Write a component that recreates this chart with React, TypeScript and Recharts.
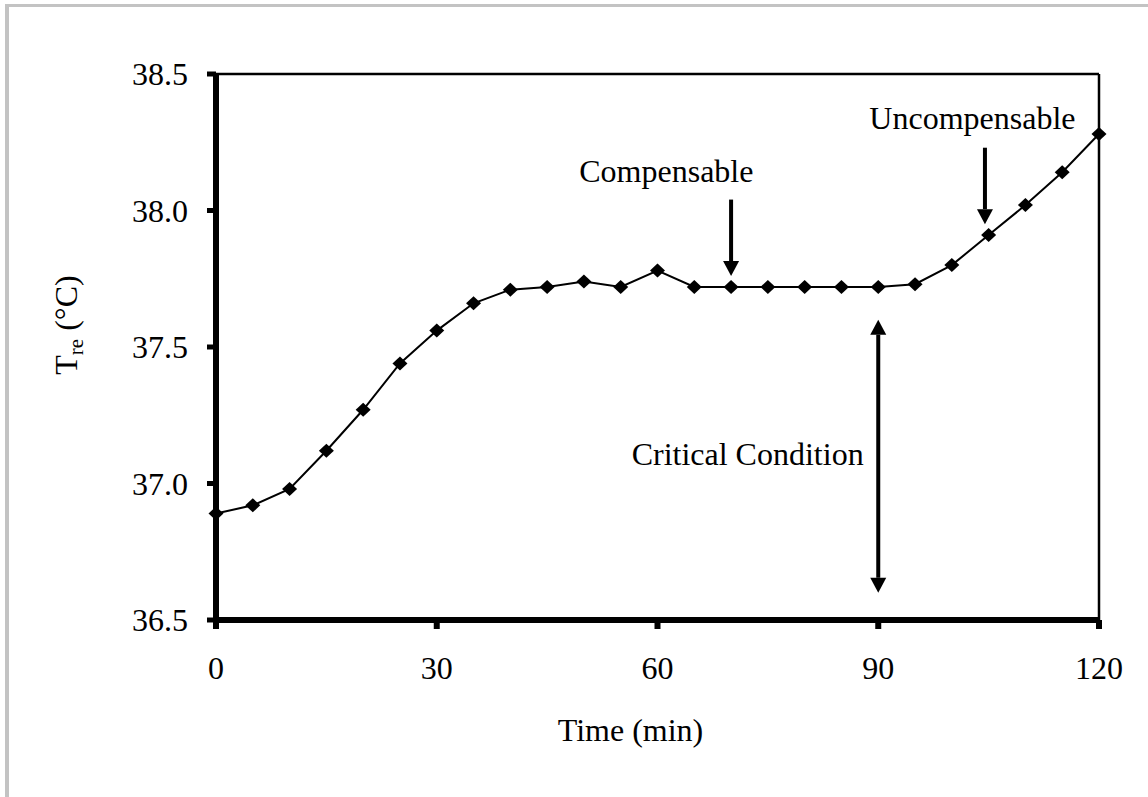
import React from "react";
import { LineChart, Line, XAxis, YAxis, ReferenceLine, ReferenceDot } from "recharts";

const times = [0, 5, 10, 15, 20, 25, 30, 35, 40, 45, 50, 55, 60, 65, 70, 75, 80, 85, 90, 95, 100, 105, 110, 115, 120];
const tre = [36.89, 36.92, 36.98, 37.12, 37.27, 37.44, 37.56, 37.66, 37.71, 37.72, 37.74, 37.72, 37.78, 37.72, 37.72, 37.72, 37.72, 37.72, 37.72, 37.73, 37.8, 37.91, 38.02, 38.14, 38.28];
const xTicks = [0, 30, 60, 90, 120];
const yTicks = [36.5, 37.0, 37.5, 38.0, 38.5];

const arrowCompensable = [{ x: 70, y: 38.04 }, { x: 70, y: 37.76 }];
const arrowUncompensable = [{ x: 104.5, y: 38.23 }, { x: 104.5, y: 37.95 }];
const arrowCritical = [{ x: 90, y: 37.6 }, { x: 90, y: 36.6 }];

const labelCompensable = { x: 61.2, y: 38.104, text: "Compensable" };
const labelUncompensable = { x: 102.8, y: 38.3, text: "Uncompensable" };
const labelCritical = { x: 72.25, y: 37.066, text: "Critical Condition" };

const data = times.map((t, i) => ({ t, tre: tre[i] }));

const FONT = "'Liberation Serif', 'Times New Roman', serif";

const Diamond = (p: any) => {
  const { cx, cy, index } = p;
  if (cx == null || cy == null) return <g key={`d${index}`} />;
  return (
    <path
      key={`d${index}`}
      d={`M${cx},${cy - 7} L${cx + 7.5},${cy} L${cx},${cy + 7} L${cx - 7.5},${cy} Z`}
      fill="#000"
    />
  );
};

const makeArrow = (doubleHead: boolean) => (p: any) => {
  const { x1, y1, x2, y2 } = p;
  const head = 15;
  const hw = 8;
  const dir = y2 > y1 ? 1 : -1;
  const shaftStart = doubleHead ? y1 + dir * head : y1;
  const shaftEnd = y2 - dir * head;
  return (
    <g>
      <line x1={x1} y1={shaftStart} x2={x2} y2={shaftEnd} stroke="#000" strokeWidth={4} />
      <polygon points={`${x2 - hw},${y2 - dir * head} ${x2 + hw},${y2 - dir * head} ${x2},${y2}`} fill="#000" />
      {doubleHead && (
        <polygon points={`${x1 - hw},${y1 + dir * head} ${x1 + hw},${y1 + dir * head} ${x1},${y1}`} fill="#000" />
      )}
    </g>
  );
};

const makeText = (text: string) => (p: any) => (
  <text x={p.cx} y={p.cy} textAnchor="middle" fontFamily={FONT} fontSize={32} fill="#000">
    {text}
  </text>
);

const YTitle = (props: any) => {
  const vb = props.viewBox || { x: 0, y: 74, width: 216, height: 546 };
  const x = vb.x + 77;
  const y = vb.y + vb.height / 2 - 22;
  return (
    <text x={x} y={y} transform={`rotate(-90 ${x} ${y})`} textAnchor="middle" fontFamily={FONT} fontSize={32} fill="#000">
      <tspan>T</tspan>
      <tspan fontSize={21} dy={6}>re</tspan>
      <tspan dy={-6}> (°C)</tspan>
    </text>
  );
};

const XTitle = (props: any) => {
  const vb = props.viewBox || { x: 216, y: 620, width: 883, height: 177 };
  const x = vb.x + vb.width / 2 - 27;
  const y = vb.y + 121;
  return (
    <text x={x} y={y} textAnchor="middle" fontFamily={FONT} fontSize={32} fill="#000">
      Time (min)
    </text>
  );
};

export default function App() {
  return (
    <div style={{ position: "absolute", left: 0, top: 0, width: 1148, height: 797, background: "#fff", overflow: "hidden", fontFamily: FONT }}>
      <div
        style={{
          position: "absolute",
          left: 5,
          top: 4,
          width: 1143,
          height: 793,
          borderTop: "3px solid #c3c3c3",
          borderLeft: "4px solid #c3c3c3",
          boxSizing: "border-box",
        }}
      />
      <div style={{ position: "absolute", left: 0, top: 0 }}>
        <LineChart width={1148} height={797} data={data} margin={{ top: 74, right: 49, left: 0, bottom: 0 }} style={{ fontFamily: FONT }}>
          <XAxis
            dataKey="t"
            type="number"
            domain={[0, 120]}
            ticks={xTicks}
            height={177}
            axisLine={{ stroke: "#000", strokeWidth: 6 }}
            tickLine={{ stroke: "#000", strokeWidth: 6 }}
            tickSize={9}
            tickMargin={27}
            tick={{ fill: "#000", fontSize: 32, fontFamily: FONT }}
            label={{ content: XTitle }}
          />
          <YAxis
            type="number"
            domain={[36.5, 38.5]}
            ticks={yTicks}
            width={216}
            axisLine={{ stroke: "#000", strokeWidth: 6 }}
            tickLine={{ stroke: "#000", strokeWidth: 5 }}
            tickSize={9}
            tickMargin={19}
            tickFormatter={(v: number) => v.toFixed(1)}
            tick={{ fill: "#000", fontSize: 32, fontFamily: FONT }}
            label={{ content: YTitle }}
          />
          <ReferenceLine y={38.5} stroke="#000" strokeWidth={2.5} />
          <ReferenceLine x={120} stroke="#000" strokeWidth={2.5} />
          <ReferenceLine segment={arrowCompensable} shape={makeArrow(false)} />
          <ReferenceLine segment={arrowUncompensable} shape={makeArrow(false)} />
          <ReferenceLine segment={arrowCritical} shape={makeArrow(true)} />
          <ReferenceDot x={labelCompensable.x} y={labelCompensable.y} shape={makeText(labelCompensable.text)} />
          <ReferenceDot x={labelUncompensable.x} y={labelUncompensable.y} shape={makeText(labelUncompensable.text)} />
          <ReferenceDot x={labelCritical.x} y={labelCritical.y} shape={makeText(labelCritical.text)} />
          <Line
            type="linear"
            dataKey="tre"
            stroke="#000"
            strokeWidth={2}
            dot={Diamond}
            activeDot={false}
            isAnimationActive={false}
          />
        </LineChart>
      </div>
    </div>
  );
}
